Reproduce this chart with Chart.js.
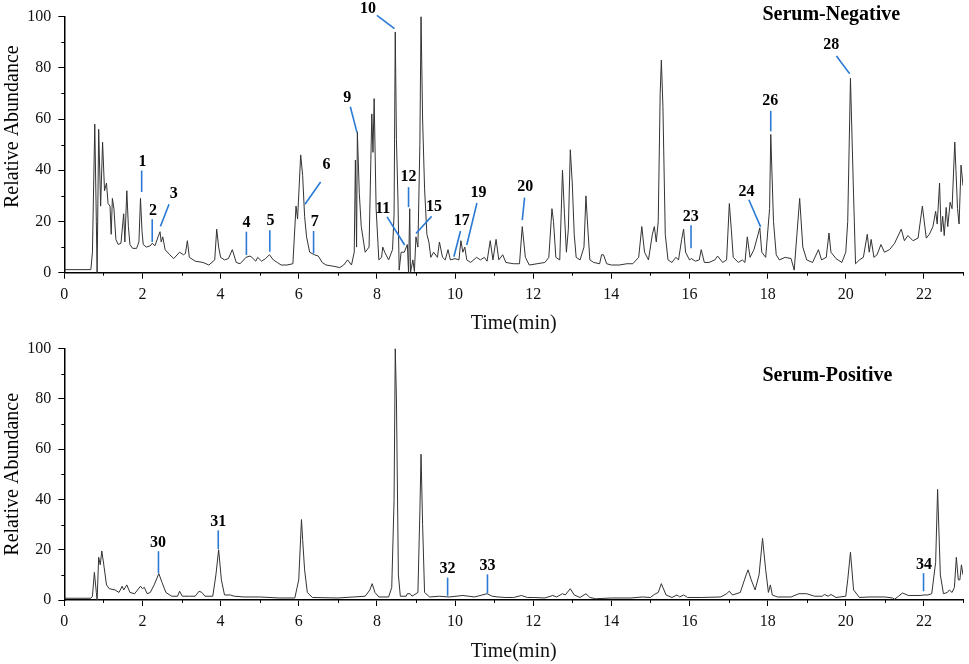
<!DOCTYPE html>
<html>
<head>
<meta charset="utf-8">
<script src="https://cdn.jsdelivr.net/npm/chart.js@4.4.1/dist/chart.umd.min.js"></script>
<style>
  html, body { margin: 0; padding: 0; background: #fff; }
  body { position: relative; width: 969px; height: 664px; overflow: hidden; }
  canvas { display: block; position: absolute; left: 0; }
  #negChart { top: 0; }
  #posChart { top: 332px; }
</style>
</head>
<body>
<canvas id="negChart" width="969" height="340"></canvas>
<canvas id="posChart" width="969" height="332"></canvas>
<script>
// time (min), relative abundance (%)
const negPoints = [[0,1.2],[0.68,1.2],[0.72,8],[0.78,58],[0.82,20],[0.84,0],[0.88,56],[0.93,26],[0.98,51],[1.03,32],[1.08,35],[1.12,27],[1.17,26],[1.2,15],[1.23,29],[1.27,25],[1.32,13],[1.38,11],[1.45,11.5],[1.52,23],[1.55,12],[1.6,32],[1.64,18],[1.68,11],[1.75,9.5],[1.85,9.5],[1.91,12],[1.95,29],[1.99,16],[2.02,11],[2.1,10],[2.2,10.5],[2.25,11.5],[2.32,10.5],[2.4,14],[2.45,16],[2.48,12],[2.52,14],[2.58,9],[2.7,7],[2.8,5.5],[2.95,8],[3.05,7],[3.1,7.5],[3.15,12.5],[3.2,6],[3.35,4.5],[3.55,4],[3.7,3],[3.85,5],[3.9,17],[3.95,10],[4.0,6],[4.1,5],[4.2,5.5],[4.3,9],[4.4,4],[4.5,3.5],[4.65,6],[4.75,6.5],[4.8,6],[4.9,4.5],[4.95,6],[5.05,4.5],[5.15,5.5],[5.25,7],[5.35,5],[5.45,4],[5.55,3],[5.7,3],[5.85,3.5],[5.93,26],[5.97,21],[6.05,46],[6.1,38],[6.15,22],[6.2,14],[6.28,8],[6.4,7],[6.5,6.5],[6.6,4],[6.7,3],[6.9,2.5],[7.05,2],[7.15,3],[7.25,5],[7.35,3],[7.42,8],[7.45,44],[7.48,10],[7.5,55],[7.55,31],[7.6,18],[7.7,8],[7.8,10],[7.87,62],[7.9,47],[7.93,68],[7.98,25],[8.05,5],[8.12,6],[8.15,10],[8.2,8],[8.3,5],[8.4,9],[8.44,23],[8.47,94],[8.5,52],[8.54,28],[8.57,1],[8.62,8],[8.7,8],[8.78,11],[8.81,0],[8.84,25],[8.86,0],[8.92,5],[8.96,0.5],[9.0,14],[9.05,10],[9.1,50],[9.13,100],[9.17,60],[9.22,33],[9.28,15],[9.33,12],[9.38,6],[9.45,8],[9.55,6],[9.6,12],[9.68,6],[9.75,5],[9.82,9],[9.88,5],[10.0,5.5],[10.1,5],[10.15,12.5],[10.2,8],[10.25,10],[10.3,5],[10.4,4],[10.55,6],[10.65,5],[10.75,6],[10.82,4.5],[10.9,12.5],[10.97,5],[11.05,13],[11.12,5],[11.22,7],[11.3,4],[11.5,3.5],[11.65,3.5],[11.72,18],[11.76,12],[11.8,6],[11.9,3],[12.1,3.5],[12.3,4],[12.4,6],[12.48,25],[12.52,20],[12.58,6],[12.68,5],[12.75,40],[12.8,23],[12.85,8],[12.9,17],[12.95,48],[13.0,35],[13.05,15],[13.1,6],[13.2,5],[13.3,10],[13.35,30],[13.4,17],[13.45,5],[13.55,4],[13.7,3.5],[13.75,7],[13.8,7],[13.88,3.5],[14.0,3],[14.2,3],[14.4,3.5],[14.55,3.5],[14.7,6],[14.78,18],[14.85,8],[14.95,5],[15.05,15],[15.1,18],[15.15,12],[15.2,20],[15.25,70],[15.28,83],[15.32,65],[15.38,15],[15.45,5],[15.55,4],[15.65,6],[15.72,5],[15.8,13],[15.85,17],[15.9,8],[16.0,5],[16.05,5.5],[16.15,4.5],[16.25,5],[16.3,9],[16.38,4],[16.5,4],[16.65,5],[16.72,6.5],[16.85,4],[16.95,5],[17.02,27],[17.07,17],[17.12,6],[17.25,4],[17.35,5],[17.42,4],[17.48,14],[17.55,6],[17.65,9],[17.8,17.5],[17.85,8],[17.95,6],[18.05,25],[18.08,54],[18.15,20],[18.22,7],[18.3,5],[18.45,6],[18.6,5.5],[18.68,1],[18.75,15],[18.82,29],[18.9,10],[19.0,5],[19.15,4],[19.3,9],[19.38,5],[19.5,6],[19.57,15.5],[19.62,8],[19.75,5.5],[19.9,4],[20.0,8],[20.05,20],[20.12,76],[20.2,30],[20.25,3.5],[20.35,5],[20.45,6],[20.55,15],[20.6,8],[20.65,13],[20.72,6],[20.8,7],[20.9,11],[20.99,8],[21.12,9],[21.25,11.5],[21.42,17],[21.5,12.5],[21.59,14.5],[21.72,12.5],[21.85,13.5],[21.96,26],[22.06,13.5],[22.14,15],[22.23,18],[22.3,24],[22.34,19],[22.4,35],[22.44,16],[22.48,22],[22.52,14.5],[22.57,25.5],[22.61,18],[22.67,27.5],[22.72,25],[22.79,51],[22.82,40],[22.86,25],[22.9,19],[22.95,42],[23.0,34]];

const posPoints = [[0,0.7],[0.68,0.7],[0.72,1.5],[0.77,11],[0.82,3],[0.84,0],[0.88,17],[0.92,14],[0.96,19.5],[1.02,13],[1.08,6],[1.15,4.5],[1.3,4],[1.4,3],[1.48,5.5],[1.52,4],[1.6,6],[1.68,3],[1.8,2.5],[1.95,5.5],[2.0,4.5],[2.05,5],[2.12,2.5],[2.2,3],[2.3,6],[2.42,10.5],[2.5,7],[2.6,3],[2.75,1.5],[2.9,1.5],[2.95,3.5],[3.02,1.5],[3.2,1.5],[3.35,1.5],[3.45,3.5],[3.52,3],[3.6,1.5],[3.8,1.5],[3.88,10],[3.95,20],[4.02,8],[4.1,2],[4.25,2],[4.35,1.5],[4.6,1.2],[5.0,1.2],[5.5,0.8],[5.9,0.8],[6.0,8],[6.07,32],[6.1,24],[6.15,12],[6.22,3],[6.35,1],[7.0,0.8],[7.4,1.2],[7.7,1.5],[7.82,4],[7.88,6.5],[7.95,3],[8.05,1.2],[8.3,1.2],[8.38,5],[8.44,40],[8.47,100],[8.5,80],[8.55,10],[8.6,1.5],[8.75,1.5],[8.78,2.5],[8.85,2.5],[8.9,1.5],[9.05,3],[9.1,35],[9.13,58],[9.17,30],[9.22,3],[9.35,1.2],[9.6,1.5],[9.85,1.2],[10.2,1.8],[10.5,1.2],[10.82,2.5],[10.95,1.5],[11.1,1.2],[11.3,1],[11.5,1],[11.7,1.8],[11.85,1],[12.0,1],[12.3,0.8],[12.5,1.8],[12.6,1.2],[12.75,2.5],[12.82,2],[12.95,4.5],[13.05,2],[13.2,1],[13.35,2.5],[13.45,1],[13.6,0.5],[14.0,0.8],[14.5,0.8],[14.8,1.2],[15.0,1],[15.1,2.2],[15.2,3],[15.28,6.5],[15.32,5],[15.4,2],[15.55,1],[15.68,2],[15.75,1.2],[15.85,2],[15.95,1],[16.3,1],[16.8,1.2],[16.95,2.5],[17.02,3.5],[17.1,2],[17.3,3],[17.45,10],[17.5,12],[17.58,8],[17.68,4],[17.78,10],[17.87,24.5],[17.95,12],[18.02,3],[18.07,6],[18.12,2],[18.25,1.2],[18.6,1.2],[18.8,2.5],[19.0,2.5],[19.2,1.5],[19.4,1.5],[19.45,2.2],[19.55,1.5],[19.62,2.2],[19.75,1],[20.0,1.5],[20.05,8],[20.12,19],[20.2,4],[20.3,2],[20.35,1],[20.6,1.2],[21.0,1.2],[21.2,0.8],[21.25,0.3],[21.35,1.5],[21.45,2.8],[21.6,1.8],[21.9,1.8],[22.0,2],[22.1,2],[22.2,2.5],[22.3,15],[22.35,44],[22.42,10],[22.5,2.5],[22.6,3],[22.65,4],[22.72,3],[22.78,5],[22.83,17],[22.88,8],[22.92,8],[22.96,14],[23.0,10]];

// peak numbers: [label, text x, text y, line from x, y, line to x, y] in data units
const negPeaks = [
  ['1',2.0,43.4,1.98,39.9,1.98,31.5],
  ['2',2.27,24,2.25,20.9,2.25,12],
  ['3',2.8,30.6,2.68,26.7,2.46,18.1],
  ['4',4.66,19.4,4.66,16,4.66,6.9],
  ['5',5.28,20.2,5.26,16.6,5.26,8.2],
  ['6',6.71,42,6.56,35.4,6.16,26.7],
  ['7',6.41,20,6.38,16.3,6.38,7.5],
  ['9',7.24,68.4,7.32,64.8,7.49,54.8],
  ['10',7.77,103,8.0,100.5,8.45,95.3],
  ['11',8.15,25,8.26,21.8,8.71,10.8],
  ['12',8.81,37.3,8.81,33.4,8.81,25.6],
  ['15',9.46,25.9,9.4,22,9.0,15.3],
  ['17',10.17,20.2,10.14,16.3,9.97,6.2],
  ['19',10.6,31,10.56,27.2,10.3,10.8],
  ['20',11.8,33.7,11.78,29.3,11.72,20.5],
  ['23',16.03,21.8,16.04,18.5,16.04,9.5],
  ['24',17.46,31.5,17.52,28.5,17.82,17.9],
  ['26',18.07,67,18.08,63.2,18.08,55.2],
  ['28',19.63,88.9,19.76,84.6,20.1,77.7]
];
const posPeaks = [
  ['30',2.4,22.6,2.41,19.4,2.41,10.7],
  ['31',3.94,31,3.94,27.7,3.94,20.3],
  ['32',9.81,12.4,9.81,8.9,9.81,1.7],
  ['33',10.83,13.7,10.83,10.2,10.83,2.6],
  ['34',22.0,14.1,21.99,10.7,21.99,3.5]
];

const xLabelEvery = 2;
const yLabelEvery = 20;

const serif = '"Liberation Serif", "Times New Roman", serif';
const blue = '#2a7ad5';

// minor ticks, peak callouts, panel title and y axis title
const decorPlugin = {
  id: 'decor',
  afterDraw(chart, args, opts) {
    const ctx = chart.ctx;
    const xs = chart.scales.x, ys = chart.scales.y;
    const area = chart.chartArea;
    ctx.save();
    ctx.strokeStyle = '#000';
    ctx.lineWidth = 1;
    ctx.beginPath();
    for (let v = 1; v <= 23; v += 2) {
      const px = Math.round(xs.getPixelForValue(v)) + 0.5;
      ctx.moveTo(px, area.bottom);
      ctx.lineTo(px, area.bottom + 3);
    }
    for (let v = 10; v < 100; v += 20) {
      const py = Math.round(ys.getPixelForValue(v)) + 0.5;
      ctx.moveTo(area.left, py);
      ctx.lineTo(area.left - 3, py);
    }
    ctx.stroke();

    ctx.strokeStyle = blue;
    ctx.lineWidth = 1.6;
    ctx.fillStyle = '#000';
    ctx.font = 'bold 16px ' + serif;
    ctx.textAlign = 'center';
    ctx.textBaseline = 'middle';
    opts.peaks.forEach(p => {
      ctx.beginPath();
      ctx.moveTo(xs.getPixelForValue(p[3]), ys.getPixelForValue(p[4]));
      ctx.lineTo(xs.getPixelForValue(p[5]), ys.getPixelForValue(p[6]));
      ctx.stroke();
      ctx.fillText(p[0], xs.getPixelForValue(p[1]), ys.getPixelForValue(p[2]));
    });

    ctx.font = 'bold 20px ' + serif;
    ctx.fillText(opts.title, xs.getPixelForValue(opts.titleAt[0]), ys.getPixelForValue(opts.titleAt[1]));

    ctx.font = '20px ' + serif;
    ctx.translate(13, (area.top + area.bottom) / 2 + opts.yTitleShift);
    ctx.rotate(-Math.PI / 2);
    ctx.fillText('Relative Abundance', 0, 0);
    ctx.restore();
  }
};

function makeChart(id, points, peaks, title, titleAt, yTitleShift, topPad, xHeight, xTitlePad) {
  return new Chart(document.getElementById(id), {
    type: 'line',
    data: {
      datasets: [{
        data: points.map(p => ({ x: p[0], y: p[1] })),
        borderColor: '#333',
        borderWidth: 1,
        pointRadius: 0,
        tension: 0,
        fill: false
      }]
    },
    options: {
      responsive: false,
      animation: false,
      devicePixelRatio: 1,
      layout: { padding: { top: topPad, right: 2, left: 0, bottom: 0 } },
      plugins: {
        legend: { display: false },
        tooltip: { enabled: false },
        decor: { peaks: peaks, title: title, titleAt: titleAt, yTitleShift: yTitleShift }
      },
      scales: {
        x: {
          type: 'linear',
          min: 0,
          max: 23,
          afterFit: s => { s.height = xHeight; },
          border: { display: true, color: '#000', width: 1.5 },
          grid: {
            drawOnChartArea: false,
            tickLength: 6,
            tickColor: c => (c.tick && c.tick.value % xLabelEvery === 0) ? '#000' : 'rgba(0,0,0,0)'
          },
          ticks: {
            stepSize: 1,
            autoSkip: false,
            maxRotation: 0,
            padding: 6,
            color: '#111',
            font: { family: serif, size: 16 },
            callback: v => (v % xLabelEvery === 0 ? v : '')
          },
          title: {
            display: true,
            text: 'Time(min)',
            color: '#111',
            font: { family: serif, size: 20 },
            padding: { top: 0, bottom: xTitlePad }
          }
        },
        y: {
          min: 0,
          max: 100,
          afterFit: s => { s.width = 64.3; },
          border: { display: true, color: '#000', width: 1.5 },
          grid: {
            drawOnChartArea: false,
            tickLength: 6,
            tickColor: c => (c.tick && c.tick.value % yLabelEvery === 0) ? '#000' : 'rgba(0,0,0,0)'
          },
          ticks: {
            stepSize: 10,
            padding: 7,
            color: '#111',
            font: { family: serif, size: 16 },
            callback: v => (v % yLabelEvery === 0 ? v : '')
          }
        }
      }
    },
    plugins: [decorPlugin]
  });
}

makeChart('negChart', negPoints, negPeaks, 'Serum-Negative', [19.63, 100.8], -18, 15.3, 67.3, 4);
makeChart('posChart', posPoints, posPeaks, 'Serum-Positive', [19.53, 89.3], 0, 13.3, 64, 0);
</script>
</body>
</html>
